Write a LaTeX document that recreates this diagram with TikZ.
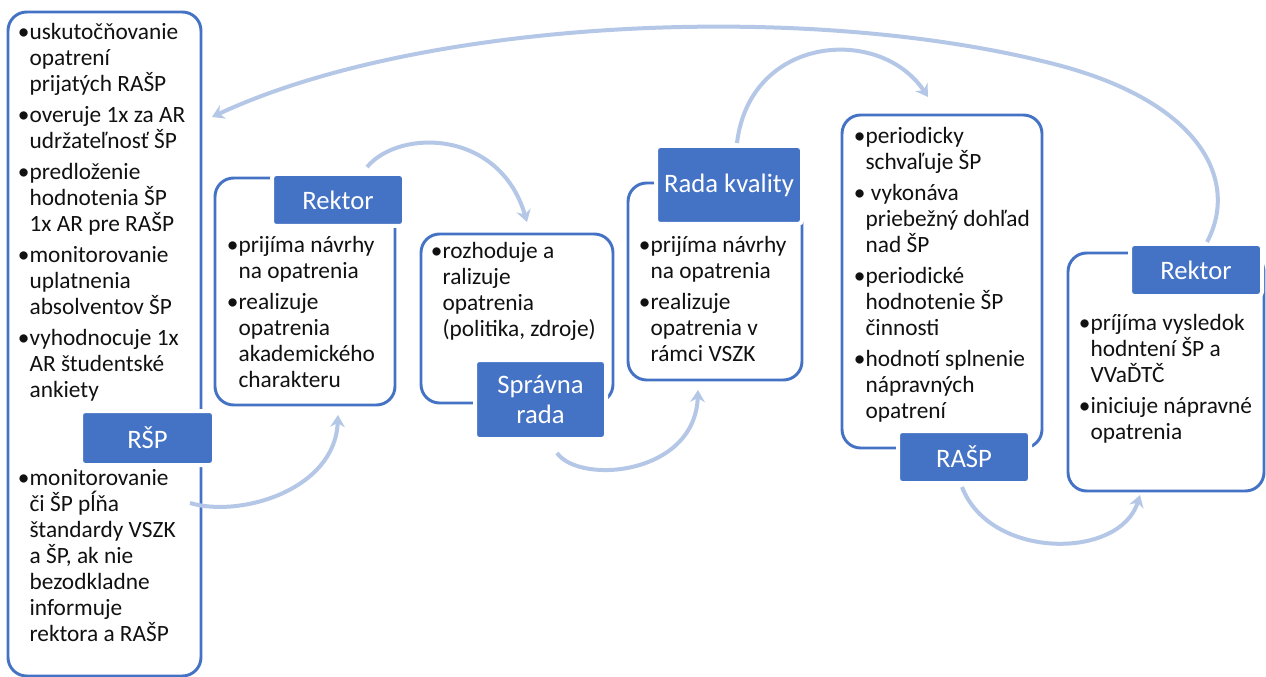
\documentclass[tikz,border=0pt]{standalone}
\usepackage{fontspec}
\setmainfont{Carlito}
\usetikzlibrary{arrows.meta,fit}
\definecolor{boxblue}{HTML}{4472C4}
\definecolor{arrowc}{HTML}{B4C7E7}
\definecolor{txtc}{HTML}{111111}
\newcommand\bitem{\makebox[7pt][l]{\hspace{-1.8pt}•}}
\newcommand\bcont{\hspace*{7pt}}
\newcommand\topst{\rule{0pt}{13.5pt}}
\begin{document}
\begin{tikzpicture}[x=0.75pt,y=-0.75pt,
 frame/.style={draw=boxblue, line width=2.2pt, rounded corners=14pt, inner sep=0pt},
 lbl/.style={fill=boxblue, draw=white, line width=3pt, rounded corners=3pt, inner sep=0pt, text=white, font=\fontsize{20}{22.5}\selectfont, align=center},
 txt/.style={anchor=north west, inner sep=0pt, align=left, text=txtc, font=\fontsize{17.5}{19.5}\selectfont},
 arr/.style={draw=arrowc, line width=3pt, -{Stealth[length=9pt,width=11pt,inset=3pt]}}
]
\fill[white] (0,0) rectangle (1266,677);
\useasboundingbox (0,0) rectangle (1266,677);

% frames
\node[frame, fit={(8,12) (201,676)}] (rsp) {};
\node[frame, fit={(215,178) (395,405)}] (rek1) {};
\node[frame, fit={(421,234) (613,403)}] (spr) {};
\node[frame, fit={(628,183) (802,380)}] (rk) {};
\node[frame, fit={(842,115) (1042,448)}] (rasp) {};
\node[frame, fit={(1068,253) (1264,491)}] (rek2) {};

% labels
\node[lbl, minimum width=99.75pt, minimum height=40.5pt] (rspL) at (147.5,438) {RŠP};
\node[lbl, minimum width=99pt, minimum height=39pt] (rek1L) at (338,200) {Rektor};
\node[lbl, minimum width=98.25pt, minimum height=59.25pt] (sprL) at (540.5,399.5) {Správna\\rada};
\node[lbl, minimum width=109.5pt, minimum height=58.5pt] (rkL) at (729,185) {Rada kvality};
\node[lbl, minimum width=99pt, minimum height=39pt] (raspL) at (964,457) {RAŠP};
\node[lbl, minimum width=99pt, minimum height=39pt] (rek2L) at (1196,270) {Rektor};

% texts
\node[txt] (rspT1) at (20,21) {\topst\bitem uskutočňovanie\\\bcont opatrení\\\bcont prijatých RAŠP\\[3.7pt]\bitem overuje 1x za AR\\\bcont udržateľnosť ŠP\\[3.7pt]\bitem predloženie\\\bcont hodnotenia ŠP\\\bcont 1x AR pre RAŠP\\[3.7pt]\bitem monitorovanie\\\bcont uplatnenia\\\bcont absolventov ŠP\\[3.7pt]\bitem vyhodnocuje 1x\\\bcont AR študentské\\\bcont ankiety};
\node[txt] (rspT2) at (20,467) {\topst\bitem monitorovanie\\\bcont či ŠP pĺňa\\\bcont štandardy VSZK\\\bcont a ŠP, ak nie\\\bcont bezodkladne\\\bcont informuje\\\bcont rektora a RAŠP};
\node[txt] (rek1T) at (229,234) {\topst\bitem prijíma návrhy\\\bcont na opatrenia\\[3.7pt]\bitem realizuje\\\bcont opatrenia\\\bcont akademického\\\bcont charakteru};
\node[txt] (sprT) at (433,240) {\topst\bitem rozhoduje a\\\bcont ralizuje\\\bcont opatrenia\\\bcont (politika, zdroje)};
\node[txt] (rkT) at (641,234) {\topst\bitem prijíma návrhy\\\bcont na opatrenia\\[3.7pt]\bitem realizuje\\\bcont opatrenia v\\\bcont rámci VSZK};
\node[txt] (raspT) at (856,125) {\topst\bitem periodicky\\\bcont schvaľuje ŠP\\[3.7pt]\bitem\ vykonáva\\\bcont priebežný dohľad\\\bcont nad ŠP\\[3.7pt]\bitem periodické\\\bcont hodnotenie ŠP\\\bcont činnosti\\[3.7pt]\bitem hodnotí splnenie\\\bcont nápravných\\\bcont opatrení};
\node[txt] (rek2T) at (1081,312) {\topst\bitem príjíma vysledok\\\bcont hodntení ŠP a\\\bcont VVaĎTČ\\[3.7pt]\bitem iniciuje nápravné\\\bcont opatrenia};

% connector end points
\coordinate (a1s) at (190,503);
\coordinate (a1e) at (338,415);
\coordinate (a2s) at (367,167);
\coordinate (a2e) at (527,222);
\coordinate (a3s) at (557,453);
\coordinate (a3e) at (698,390);
\coordinate (a4s) at (737,143);
\coordinate (a4e) at (928,97);
\coordinate (a5s) at (962,487);
\coordinate (a5e) at (1140,495);
\coordinate (a6s) at (1207,242);
\coordinate (a6m) at (1050,63);
\coordinate (a6e) at (212,117);

% connectors
\draw[arr] (a1s) .. controls (240,518) and (335,490) .. (a1e);
\draw[arr] (a2s) .. controls (400,128) and (500,130) .. (a2e);
\draw[arr] (a3s) .. controls (580,485) and (695,475) .. (a3e);
\draw[arr] (a4s) .. controls (750,35) and (880,25) .. (a4e);
\draw[arr] (a5s) .. controls (990,560) and (1120,560) .. (a5e);
\draw[arr] (a6s) .. controls (1240,180) and (1200,100) .. (a6m) .. controls (800,0) and (420,20) .. (a6e);
\end{tikzpicture}
\end{document}
